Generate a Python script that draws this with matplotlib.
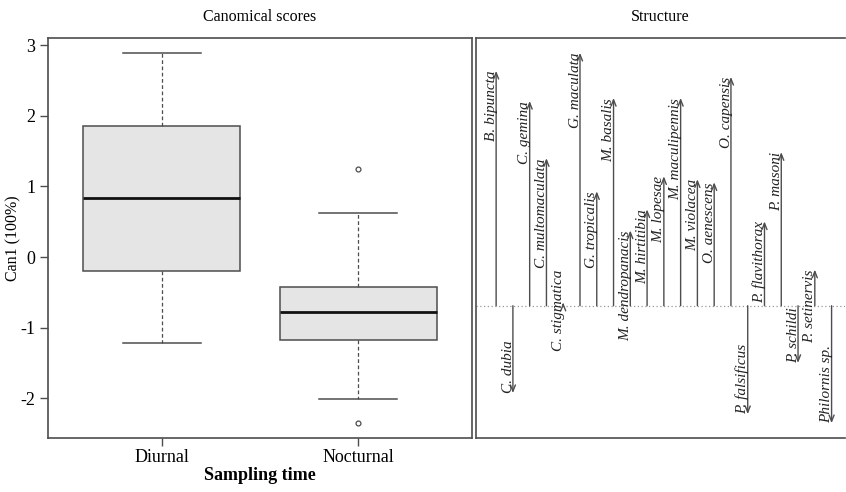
import numpy as np
import matplotlib
matplotlib.use('Agg')
import matplotlib.pyplot as plt

plt.rcParams['font.family'] = ['Liberation Serif', 'DejaVu Serif']

# Canonical scores (box plot summary)
groups = ['Diurnal', 'Nocturnal']
whisker_low = [-1.22, -2.01]
q1 = [-0.19, -1.17]
medians = [0.835, -0.78]
q3 = [1.85, -0.42]
whisker_high = [2.89, 0.63]
outliers = [[], [1.25, -2.35]]

# Structure coefficients
species = ['B. bipuncta', 'C. dubia', 'C. gemina', 'C. multomaculata', 'C. stigmatica',
           'G. maculata', 'G. tropicalis', 'M. basalis', 'M. dendropanacis', 'M. hirtitibia',
           'M. lopesae', 'M. maculipennis', 'M. violacea', 'O. aenescens', 'O. capensis',
           'P. falsificus', 'P. flavithorax', 'P. masoni', 'P. schildi', 'P. setinervis',
           'Philornis sp.']
structure = [0.78, -0.29, 0.68, 0.49, 0.01,
             0.84, 0.38, 0.69, 0.25, 0.32,
             0.43, 0.69, 0.42, 0.41, 0.76,
             -0.36, 0.28, 0.51, -0.19, 0.12,
             -0.39]

# labels that sit away from their arrow tip in the original
label_shift = {'C. stigmatica': 0.12}

line_col = '#4d4d4d'
W, H = 846, 492

fig = plt.figure(figsize=(W / 100, H / 100), dpi=100)
ax1 = fig.add_axes([48 / W, 1 - 438 / H, (472 - 48) / W, 400 / H])
ax2 = fig.add_axes([476 / W, 1 - 438 / H, (845 - 476) / W, 400 / H])

# ---- left: box plot ----
stats = []
for i in range(len(groups)):
    stats.append(dict(label=groups[i], whislo=whisker_low[i], q1=q1[i], med=medians[i],
                      q3=q3[i], whishi=whisker_high[i], fliers=outliers[i]))

ax1.bxp(stats, positions=[1, 2], widths=0.8, patch_artist=True, showfliers=True,
        boxprops=dict(facecolor='#e5e5e5', edgecolor=line_col, linewidth=1.1),
        medianprops=dict(color='#111111', linewidth=2.0),
        whiskerprops=dict(color=line_col, linewidth=0.9, linestyle=(0, (3, 2))),
        capprops=dict(color=line_col, linewidth=1.1),
        capwidths=0.4,
        flierprops=dict(marker='o', markersize=3.5, markerfacecolor='none',
                        markeredgecolor=line_col, markeredgewidth=0.9))

lo = min(min(whisker_low), min(min(o) for o in outliers if o))
hi = max(max(whisker_high), max(max(o) for o in outliers if o))
pad = (hi - lo) * 0.04
ax1.set_ylim(lo - pad, hi + pad)
ax1.set_xlim(0.42, 2.58)
ax1.set_yticks([-2, -1, 0, 1, 2, 3])
ax1.set_yticklabels(['-2', '-1', '0', '1', '2', '3'])
ax1.set_xticks([1, 2])
ax1.set_xticklabels(groups)
ax1.tick_params(axis='both', labelsize=13, length=6, width=1, color=line_col, pad=3)
ax1.tick_params(axis='x', pad=2)
for s in ax1.spines.values():
    s.set_color(line_col)
    s.set_linewidth(1.2)
ax1.set_ylabel('Can1 (100%)', fontsize=11.5)
ax1.yaxis.set_label_coords(-0.062, 0.5)
ax1.set_xlabel('Sampling time', fontsize=13, fontweight='bold', labelpad=1)
ax1.set_title('Canomical scores', fontsize=11.5, pad=12)

# ---- right: structure arrows ----
xs = np.arange(1, len(species) + 1)
ax2.axhline(0, color='#999999', linewidth=0.9, linestyle=(0, (1, 2)))
for x, name, v in zip(xs, species, structure):
    ax2.annotate('', xy=(x, v), xytext=(x, 0),
                 arrowprops=dict(arrowstyle='->,head_length=0.45,head_width=0.18',
                                 color=line_col, lw=1.0, shrinkA=0, shrinkB=0,
                                 mutation_scale=10))
    ly = label_shift.get(name, v)
    ax2.text(x - 0.08, ly, name, rotation=90, rotation_mode='anchor',
             ha='right' if ly > 0 else 'left', va='baseline',
             fontsize=11, style='italic', color='#222222')

lo2, hi2 = min(structure), max(structure)
pad2 = (hi2 - lo2) * 0.04
ax2.set_ylim(lo2 - pad2, hi2 + pad2)
ax2.set_xlim(-0.2, 21.8)
ax2.set_xticks([])
ax2.set_yticks([])
ax2.spines['right'].set_visible(False)
for s in ['top', 'left', 'bottom']:
    ax2.spines[s].set_color(line_col)
    ax2.spines[s].set_linewidth(1.2)
ax2.set_title('Structure', fontsize=11.5, pad=12)

fig.savefig('out.png', dpi=100)
